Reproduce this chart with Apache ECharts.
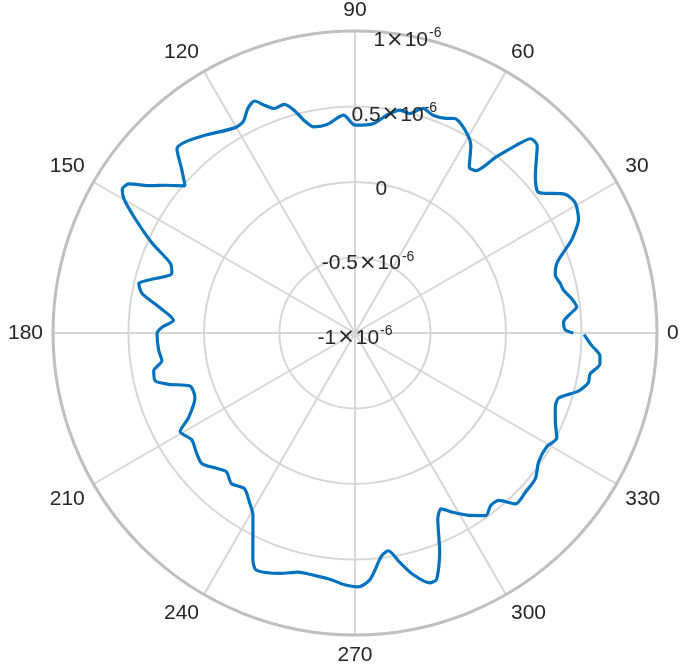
<!DOCTYPE html>
<html>
<head>
<meta charset="utf-8">
<script src="https://cdn.jsdelivr.net/npm/echarts@6/dist/echarts.min.js"></script>
<style>
html,body{margin:0;padding:0;background:#fff;}
#chart{width:685px;height:669px;}
</style>
</head>
<body>
<div id="chart"></div>
<script>
// Angles (degrees) and radial values
var thetaDeg = [0,0.9,3.0,5.1,6.7,9.0,11.6,13.6,16.2,19.1,21.6,23.3,26.9,30.6,33.4,37.4,41.1,45.8,47.9,49.4,51.3,53.3,55.4,58.3,61.9,65.1,67.0,70.3,73.2,76.0,78.6,81.7,85.0,90,93.0,97.6,101.3,103.5,105.3,107.2,109.8,111.7,113.4,115.5,117.9,120.4,127.2,131.7,134.0,136.6,139.1,142.1,144.0,146.6,148.3,149.9,152.6,156.1,159.3,161.9,165.6,167.1,169.5,172.4,176.0,178.3,180.2,185.1,188.2,190.6,193.5,195.4,197.8,202.0,207.0,209.4,213.2,217.2,220.4,223.9,227.2,230.6,234.6,238.0,240.8,245.7,247.4,252.9,256.5,261.2,264.3,267.4,270.8,273.5,276.8,278.7,281.1,283.5,286.6,288.3,291.1,294.0,296.1,298.6,302.1,305.6,308.2,310.7,313.2,317.0,321.1,325.0,329.4,332.5,336.2,339.5,342.3,345.4,348.0,350.1,352.8,354.7,357.0,359.6];
var rValue = [4.46e-7,3.92e-7,3.83e-7,4.31e-7,4.78e-7,4.53e-7,4.10e-7,3.98e-7,3.81e-7,4.15e-7,4.97e-7,5.63e-7,6.60e-7,6.94e-7,6.68e-7,5.32e-7,5.85e-7,7.31e-7,7.34e-7,6.35e-7,4.92e-7,3.41e-7,3.33e-7,4.60e-7,5.35e-7,5.66e-7,5.44e-7,5.32e-7,5.54e-7,4.98e-7,5.06e-7,4.58e-7,3.92e-7,3.76e-7,4.45e-7,3.93e-7,3.92e-7,4.49e-7,5.30e-7,5.85e-7,5.80e-7,6.24e-7,6.74e-7,6.48e-7,5.83e-7,5.75e-7,6.44e-7,6.93e-7,6.97e-7,5.80e-7,4.89e-7,5.93e-7,6.60e-7,7.93e-7,8.12e-7,7.68e-7,6.37e-7,4.70e-7,3.08e-7,2.76e-7,4.10e-7,4.69e-7,4.34e-7,3.11e-7,2.05e-7,2.79e-7,3.11e-7,3.05e-7,2.92e-7,3.56e-7,3.60e-7,2.80e-7,1.48e-7,1.43e-7,2.38e-7,3.29e-7,2.92e-7,3.17e-7,3.33e-7,2.88e-7,2.53e-7,2.90e-7,2.64e-7,3.20e-7,3.85e-7,6.44e-7,7.01e-7,6.66e-7,6.28e-7,6.29e-7,6.40e-7,6.67e-7,6.81e-7,6.35e-7,4.87e-7,4.59e-7,5.50e-7,6.45e-7,7.27e-7,7.19e-7,5.58e-7,3.48e-7,2.97e-7,3.52e-7,4.26e-7,4.87e-7,4.54e-7,4.62e-7,5.53e-7,5.44e-7,5.35e-7,4.85e-7,4.77e-7,5.07e-7,4.50e-7,4.16e-7,4.15e-7,5.29e-7,5.80e-7,5.80e-7,6.35e-7,6.29e-7,5.69e-7,5.17e-7];
var angleTicks = [0,30,60,90,120,150,180,210,240,270,300,330];
var rTickValues = [-1e-6,-0.5e-6,0,0.5e-6,1e-6];
var rTickMantissa = ['-1','-0.5','0','0.5','1'];
var rTickExponent = ['-6','-6','','-6','-6'];

var chart = echarts.init(document.getElementById('chart'), null, {renderer:'canvas'});
var FONT = '"Liberation Sans", Arial, Helvetica, sans-serif';
var CENTER = [355, 333];
var RADIUS = 302;

var option = {
  animation: false,
  backgroundColor: '#ffffff',
  polar: [
    {center: CENTER, radius: RADIUS},
    {center: CENTER, radius: RADIUS}
  ],
  angleAxis: [
    {
      polarIndex: 0, type: 'value', min: 0, max: 360, interval: 30,
      startAngle: 0, clockwise: false,
      axisLine: {show: true, lineStyle: {color: '#bfbfbf', width: 3}},
      axisTick: {show: false},
      axisLabel: {
        show: true, margin: 10, color: '#262626', fontSize: 21, fontFamily: FONT,
        formatter: function (v) { return angleTicks.indexOf(v) >= 0 ? String(v) : ''; }
      },
      splitLine: {show: true, lineStyle: {color: '#d6d6d6', width: 2}}
    },
    {
      polarIndex: 1, type: 'value', min: 0, max: 360, startAngle: 80, clockwise: false,
      axisLine: {show: false}, axisTick: {show: false}, axisLabel: {show: false}, splitLine: {show: false}
    }
  ],
  radiusAxis: [
    {
      polarIndex: 0, type: 'value', min: -1e-6, max: 1e-6, interval: 0.5e-6,
      axisLine: {show: false}, axisTick: {show: false}, axisLabel: {show: false},
      splitLine: {show: true, lineStyle: {color: '#d6d6d6', width: 2}}
    },
    {
      polarIndex: 1, type: 'value', min: -1e-6, max: 1e-6, interval: 0.5e-6,
      axisLine: {show: false}, axisTick: {show: false}, splitLine: {show: false},
      z: 10,
      axisLabel: {
        show: true, margin: 0, align: 'center', verticalAlign: 'middle', rotate: 0,
        padding: [10, 0, 0, 0],
        formatter: function (v) {
          var idx = -1;
          for (var i = 0; i < rTickValues.length; i++) {
            if (Math.abs(rTickValues[i] - v) < 1e-9) idx = i;
          }
          if (idx < 0) return '';
          if (rTickExponent[idx] === '') return '{a|' + rTickMantissa[idx] + '}';
          return '{a|' + rTickMantissa[idx] + '}{x|×}{a|10}{b|' + rTickExponent[idx] + '}';
        },
        rich: {
          a: {fontSize: 21, color: '#262626', fontFamily: FONT},
          x: {fontSize: 21, color: '#262626', fontFamily: '"DejaVu Sans", sans-serif', padding: [0, 1, 0, 1]},
          b: {fontSize: 14, color: '#262626', fontFamily: FONT, padding: [0, 0, 14, 1]}
        }
      }
    }
  ],
  series: [{
    type: 'line',
    coordinateSystem: 'polar',
    polarIndex: 0,
    showSymbol: false,
    smooth: 0.25,
    lineStyle: {color: '#0072BD', width: 3.2},
    data: thetaDeg.map(function (t, i) { return [rValue[i], t]; })
  }]
};
chart.setOption(option);
</script>
</body>
</html>
